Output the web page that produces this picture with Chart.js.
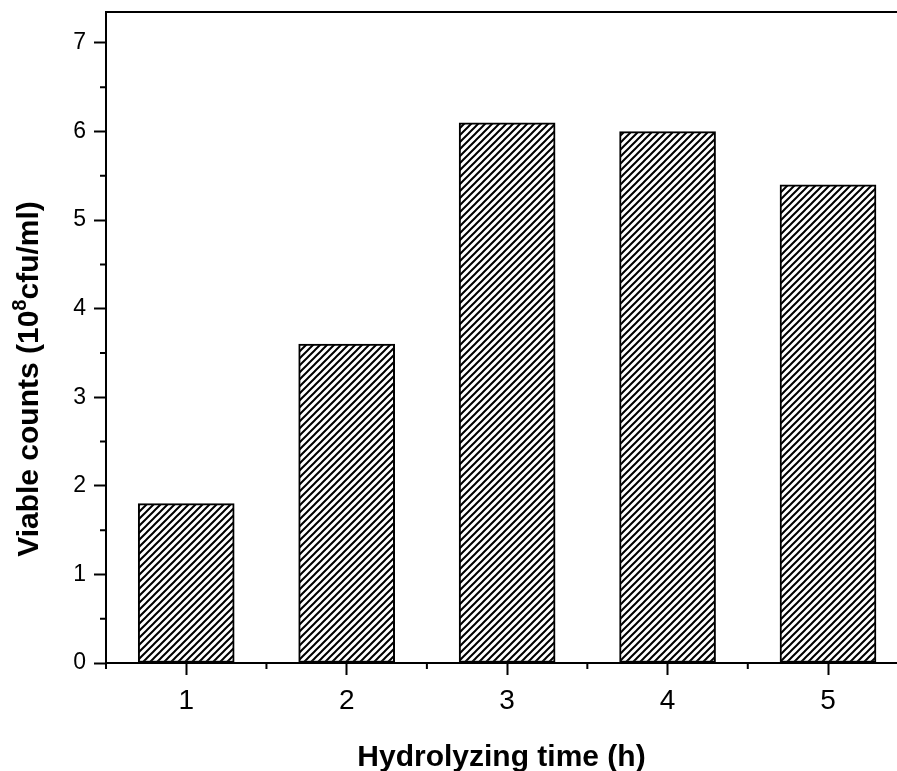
<!DOCTYPE html>
<html>
<head>
<meta charset="utf-8">
<script src="https://cdn.jsdelivr.net/npm/chart.js@4.4.1/dist/chart.umd.min.js"></script>
<style>
  html, body { margin: 0; padding: 0; background: #fff; }
  canvas { display: block; }
</style>
</head>
<body>
<canvas id="grafico" width="897" height="771"></canvas>
<script>
// Datos
const horas = [1, 2, 3, 4, 5];
const conteos = [1.8, 3.6, 6.1, 6.0, 5.4];
const ticksX = [1, 2, 3, 4, 5];
const ticksY = [0, 1, 2, 3, 4, 5, 6, 7];
const menoresX = [0.5, 1.5, 2.5, 3.5, 4.5];
const menoresY = [0.5, 1.5, 2.5, 3.5, 4.5, 5.5, 6.5];
const tituloX = "Hydrolyzing time (h)";
const tituloY = ["Viable counts (10", "8", "cfu/ml)"];

const FUENTE = "'Liberation Sans', Arial, sans-serif";

// Patron rayado para las barras
function crearRayado() {
    const t = 7;
    const c = document.createElement("canvas");
    c.width = t; c.height = t;
    const g = c.getContext("2d");
    g.fillStyle = "#fff";
    g.fillRect(0, 0, t, t);
    g.strokeStyle = "#000";
    g.lineWidth = 2;
    g.beginPath();
    g.moveTo(-1, t + 1); g.lineTo(t + 1, -1);
    g.moveTo(-1, 1); g.lineTo(1, -1);
    g.moveTo(t - 1, t + 1); g.lineTo(t + 1, t - 1);
    g.stroke();
    return g.createPattern(c, "repeat");
}

// Marco superior, ticks menores y titulo Y con superindice
const extras = {
    id: "extras",
    afterDraw(chart) {
        const { ctx, chartArea: a, scales } = chart;
        ctx.save();
        ctx.strokeStyle = "#000";
        ctx.lineWidth = 2;
        ctx.beginPath();
        ctx.moveTo(a.left - 1, a.top);
        ctx.lineTo(chart.width, a.top);
        menoresY.forEach(v => {
            const y = scales.y.getPixelForValue(v);
            ctx.moveTo(a.left, y);
            ctx.lineTo(a.left - 6, y);
        });
        menoresX.forEach(v => {
            const x = scales.x.getPixelForValue(v);
            ctx.moveTo(x, a.bottom);
            ctx.lineTo(x, a.bottom + 6);
        });
        ctx.stroke();

        // titulo del eje Y
        ctx.fillStyle = "#000";
        ctx.translate(38, 379);
        ctx.rotate(-Math.PI / 2);
        ctx.textBaseline = "alphabetic";
        ctx.textAlign = "left";
        const fGrande = `bold 30px ${FUENTE}`;
        const fChica = `bold 20px ${FUENTE}`;
        ctx.font = fGrande;
        const w1 = ctx.measureText(tituloY[0]).width;
        const w3 = ctx.measureText(tituloY[2]).width;
        ctx.font = fChica;
        const w2 = ctx.measureText(tituloY[1]).width;
        let x = -(w1 + w2 + w3) / 2;
        ctx.font = fGrande;
        ctx.fillText(tituloY[0], x, 0);
        x += w1;
        ctx.font = fChica;
        ctx.fillText(tituloY[1], x, -12);
        x += w2;
        ctx.font = fGrande;
        ctx.fillText(tituloY[2], x, 0);
        ctx.restore();
    }
};

const ctx = document.getElementById("grafico").getContext("2d");
new Chart(ctx, {
    type: "bar",
    data: {
        datasets: [{
            data: horas.map((h, i) => ({ x: h, y: conteos[i] })),
            backgroundColor: crearRayado(),
            borderColor: "#000",
            borderWidth: 2,
            borderSkipped: false,
            barThickness: 96
        }]
    },
    options: {
        responsive: false,
        animation: false,
        layout: { padding: { top: 12, right: 0, left: 0, bottom: 0 } },
        plugins: { legend: { display: false }, tooltip: { enabled: false } },
        scales: {
            x: {
                type: "linear",
                offset: false,
                min: 0.5,
                max: 5.43,
                afterBuildTicks: s => { s.ticks = ticksX.map(v => ({ value: v })); },
                afterFit: s => { s.height = 108; s.paddingLeft = 0; s.paddingRight = 0; },
                grid: { offset: false, drawOnChartArea: false, drawTicks: true, tickLength: 12, tickWidth: 2, tickColor: "#000" },
                border: { display: true, color: "#000", width: 2 },
                ticks: { color: "#000", font: { family: FUENTE, size: 28 }, padding: 9, maxRotation: 0 },
                title: { display: true, text: tituloX, color: "#000", font: { family: FUENTE, size: 30, weight: "bold", lineHeight: 0.9 }, padding: { top: 0, bottom: 0 } }
            },
            y: {
                min: 0,
                max: 7.35,
                afterBuildTicks: s => { s.ticks = ticksY.map(v => ({ value: v })); },
                afterFit: s => { s.width = 106; s.paddingTop = 0; s.paddingBottom = 0; },
                grid: { drawOnChartArea: false, drawTicks: true, tickLength: 12, tickWidth: 2, tickColor: "#000" },
                border: { display: true, color: "#000", width: 2 },
                ticks: { color: "#000", font: { family: FUENTE, size: 23 }, padding: 8 }
            }
        }
    },
    plugins: [extras]
});
</script>
</body>
</html>
